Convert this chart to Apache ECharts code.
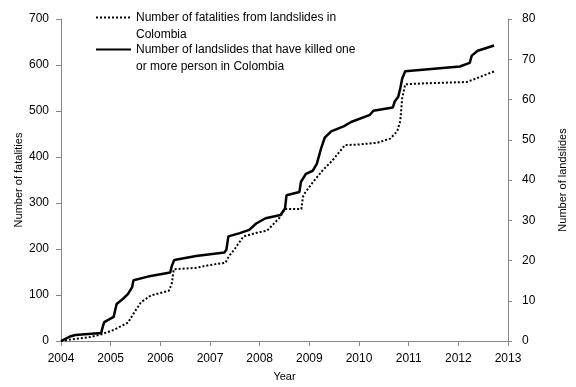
<!DOCTYPE html>
<html>
<head>
<meta charset="utf-8">
<script src="https://cdn.jsdelivr.net/npm/echarts@6/dist/echarts.min.js"></script>
<style>
  html, body { margin: 0; padding: 0; background: #fff; }
  #main { width: 576px; height: 387px; }
</style>
</head>
<body>
<div id="main"></div>
<script>
// landslides that killed one or more person (right axis)
var slideYears = [2004.00, 2004.18, 2004.29, 2004.81, 2004.84, 2004.87, 2005.06, 2005.12, 2005.25, 2005.35,
  2005.43, 2005.46, 2005.75, 2006.20, 2006.23, 2006.28, 2006.72, 2007.29, 2007.33, 2007.37,
  2007.60, 2007.79, 2007.93, 2008.12, 2008.42, 2008.51, 2008.54, 2008.80, 2008.83, 2008.93,
  2009.07, 2009.15, 2009.24, 2009.31, 2009.44, 2009.70, 2009.84, 2010.22, 2010.29, 2010.68,
  2010.72, 2010.79, 2010.83, 2010.87, 2010.93, 2011.28, 2012.03, 2012.23, 2012.27, 2012.39, 2012.72];
var slideCounts = [0, 1.1, 1.5, 2.0, 3.5, 4.7, 6.0, 9.2, 10.5, 11.7,
  13.3, 15.1, 16.0, 17.0, 18.6, 20.1, 21.1, 22.0, 22.7, 26.0,
  26.8, 27.6, 29.2, 30.5, 31.3, 32.9, 36.2, 37.0, 39.5, 41.5,
  42.3, 44.0, 48.0, 50.5, 52.1, 53.4, 54.4, 56.2, 57.2, 58.0,
  59.5, 60.7, 62.7, 65.2, 67.0, 67.4, 68.2, 69.1, 70.9, 72.1, 73.4];

// fatalities from landslides (left axis)
var fatalYears = [2004.00, 2004.18, 2004.56, 2004.80, 2004.84, 2005.06, 2005.35, 2005.48, 2005.61, 2005.81,
  2006.17, 2006.23, 2006.27, 2006.72, 2006.98, 2007.31, 2007.38, 2007.51, 2007.67, 2007.93,
  2008.15, 2008.40, 2008.51, 2008.84, 2008.87, 2008.90, 2009.07, 2009.26, 2009.46, 2009.72,
  2009.98, 2010.37, 2010.63, 2010.77, 2010.83, 2010.87, 2010.93, 2011.28, 2012.17, 2012.34, 2012.72];
var fatalCounts = [0, 3, 8, 14, 18, 24, 40, 63, 84, 99,
  109, 124, 156, 159, 165, 170, 184, 202, 227, 235,
  240, 268, 287, 287, 313, 320, 345, 370, 392, 426,
  427, 431, 440, 456, 478, 528, 558, 560, 563, 570, 586];

var fatalName = 'Number of fatalities from landslides in\nColombia';
var slideName = 'Number of landslides that have killed one\nor more person in Colombia';

function pairs(xs, ys) {
  return xs.map(function (x, i) { return [x, ys[i]]; });
}

var myChart = echarts.init(document.getElementById('main'));
var axisGray = '#868686';
var fontFam = 'Liberation Sans, Arial, sans-serif';

// blank first line so the icon sits level with the first text line
function legendOpt(top, name) {
  return {
    left: 95,
    top: top,
    orient: 'vertical',
    padding: 0,
    itemWidth: 35,
    itemHeight: 10,
    itemGap: 5,
    data: [name],
    itemStyle: { opacity: 0 },
    formatter: function (n) { return ' \n' + n; },
    textStyle: { fontFamily: fontFam, fontSize: 12, color: '#000', lineHeight: 17 }
  };
}

var option = {
  animation: false,
  backgroundColor: '#fff',
  textStyle: { fontFamily: fontFam },
  legend: [legendOpt(-8, fatalName), legendOpt(24, slideName)],
  grid: { left: 61, right: 55, top: 19, bottom: 41 },
  xAxis: {
    type: 'value',
    min: 2004,
    max: 2013,
    interval: 1,
    name: 'Year',
    nameLocation: 'middle',
    nameGap: 30,
    nameMoveOverlap: false,
    nameTextStyle: { fontSize: 11, color: '#000' },
    axisLine: { lineStyle: { color: axisGray } },
    axisTick: { inside: false, length: 5, lineStyle: { color: axisGray } },
    axisLabel: { fontSize: 12, color: '#000', margin: 12, formatter: function (v) { return String(v); } },
    splitLine: { show: false }
  },
  yAxis: [{
    type: 'value',
    min: 0,
    max: 700,
    interval: 100,
    name: 'Number of fatalities',
    nameLocation: 'middle',
    nameGap: 37,
    nameMoveOverlap: false,
    nameTextStyle: { fontSize: 11, color: '#000' },
    axisLine: { show: true, lineStyle: { color: axisGray } },
    axisTick: { show: true, length: 5, lineStyle: { color: axisGray } },
    axisLabel: { fontSize: 12, color: '#000', margin: 12 },
    splitLine: { show: false }
  }, {
    type: 'value',
    min: 0,
    max: 80,
    interval: 10,
    position: 'right',
    name: 'Number of landslides',
    nameLocation: 'middle',
    nameGap: 49,
    nameMoveOverlap: false,
    nameTextStyle: { fontSize: 11, color: '#000' },
    axisLine: { show: true, lineStyle: { color: axisGray } },
    axisTick: { show: true, length: 4, lineStyle: { color: axisGray } },
    axisLabel: { fontSize: 12, color: '#000', margin: 14 },
    splitLine: { show: false }
  }],
  series: [{
    name: fatalName,
    type: 'line',
    yAxisIndex: 0,
    symbol: 'none',
    data: pairs(fatalYears, fatalCounts),
    lineStyle: { color: '#000', width: 2, type: [2, 2] },
    itemStyle: { color: '#000' }
  }, {
    name: slideName,
    type: 'line',
    yAxisIndex: 1,
    symbol: 'none',
    data: pairs(slideYears, slideCounts),
    lineStyle: { color: '#000', width: 2.5 },
    itemStyle: { color: '#000' }
  }]
};

window.onresize = function () {
  myChart.resize();
};
myChart.setOption(option);
</script>
</body>
</html>
